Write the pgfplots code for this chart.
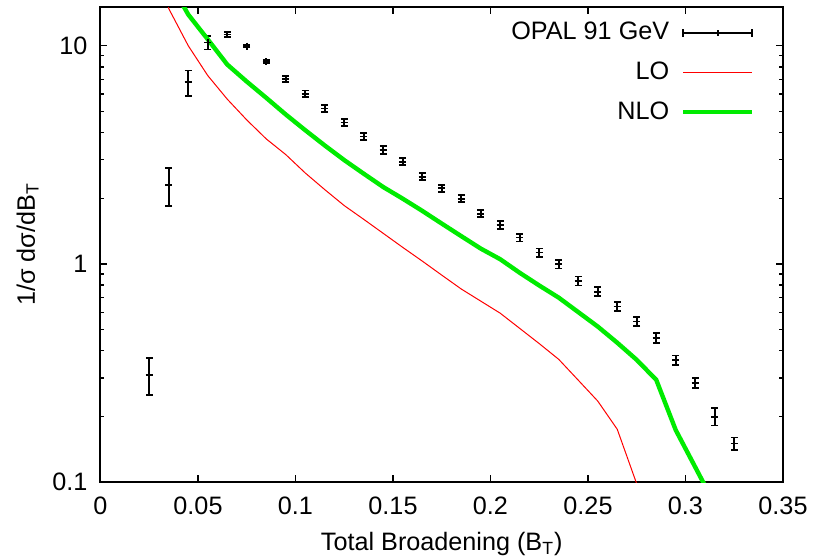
\documentclass[border=0pt]{standalone}
\usepackage{fontspec}
\setmainfont{Liberation Sans}
\usepackage{pgfplots}
\pgfplotsset{compat=1.18}
\definecolor{nlogreen}{RGB}{0,235,0}

\begin{document}
\begin{tikzpicture}[font=\fontsize{12.6}{15}\selectfont]
\begin{axis}[
    scale only axis,
    width=341.25pt, height=237.5pt,
    ymode=log,
    xmin=0, xmax=0.35, ymin=0.1, ymax=15.05,
    xtick={0,0.05,0.1,0.15,0.2,0.25,0.3,0.35},
    xticklabels={0,0.05,0.1,0.15,0.2,0.25,0.3,0.35},
    scaled x ticks=false,
    ytick={0.1,1,10},
    yticklabels={0.1,1,10},
    /pgf/number format/assume math mode=true,
    major tick length=3.5pt, minor tick length=2pt,
    every tick/.style={black, line width=0.7pt},
    axis line style={line width=1pt},
    xticklabel style={yshift=-4pt},
    yticklabel style={xshift=-3pt},
    xlabel style={yshift=-2pt},
    xlabel={Total Broadening (B\textsubscript{T})},
    ylabel={1/σ dσ/dB\textsubscript{T}},
    legend plot pos=right,
    legend cell align=right,
    legend style={draw=none, fill=none, at={(1,1)}, anchor=north east,
      xshift=-11pt, yshift=-3.5pt, row sep=5.5pt, column sep=4pt,
      font=\fontsize{12.6}{15}\selectfont},
  ]
  % OPAL data, errors
  \addplot[black, line width=0.9pt, mark=+, mark size=1.75pt, only marks,
    legend image code/.code={
      \draw[black, line width=0.9pt] (0pt,0pt) -- (34.5pt,0pt);
      \draw[black, line width=0.9pt] (0pt,-2pt) -- (0pt,2pt);
      \draw[black, line width=0.9pt] (34.5pt,-2pt) -- (34.5pt,2pt);
      \draw[black, line width=0.9pt] (17.25pt,-1.5pt) -- (17.25pt,1.5pt);
    },
    error bars/.cd, y dir=both, y explicit,
    error mark=-,
    error mark options={black, line width=0.9pt, mark size=1.65pt, rotate=90},
    error bar style={line width=0.9pt}]
    coordinates {
    (0.025,0.31)  +- (0,0.06)
    (0.035,2.29)  +- (0,0.45)
    (0.045,6.8)   +- (0,0.9)
    (0.055,10.35) +- (0,0.75)
    (0.065,11.27) +- (0,0.3)
    (0.075,9.97)  +- (0,0.12)
    (0.085,8.45)  +- (0,0.15)
    (0.095,7.06)  +- (0,0.22)
    (0.105,6.02)  +- (0,0.22)
    (0.115,5.15)  +- (0,0.2)
    (0.125,4.45)  +- (0,0.17)
    (0.135,3.84)  +- (0,0.15)
    (0.145,3.33)  +- (0,0.13)
    (0.155,2.94)  +- (0,0.11)
    (0.165,2.51)  +- (0,0.095)
    (0.175,2.22)  +- (0,0.085)
    (0.185,1.99)  +- (0,0.075)
    (0.195,1.70)  +- (0,0.065)
    (0.205,1.51)  +- (0,0.06)
    (0.215,1.32)  +- (0,0.055)
    (0.225,1.127) +- (0,0.05)
    (0.235,0.997) +- (0,0.045)
    (0.245,0.836) +- (0,0.04)
    (0.255,0.746) +- (0,0.035)
    (0.265,0.637) +- (0,0.03)
    (0.275,0.544) +- (0,0.027)
    (0.285,0.459) +- (0,0.024)
    (0.295,0.362) +- (0,0.018)
    (0.305,0.284) +- (0,0.015)
    (0.315,0.1995) +- (0,0.018)
    (0.325,0.150) +- (0,0.01)
  };
  \addlegendentry{OPAL 91 GeV}

  \addplot[red, line width=0.5pt, no marks,
    legend image code/.code={\draw[red, line width=0.5pt] (0pt,0pt) -- (34.5pt,0pt);}]
    coordinates {
    (0.025,35) (0.035,14.8) (0.045,10.0) (0.055,7.3) (0.065,5.69)
    (0.075,4.57) (0.085,3.74) (0.095,3.17) (0.105,2.61) (0.115,2.19)
    (0.125,1.85) (0.135,1.60) (0.145,1.38) (0.155,1.19) (0.165,1.03)
    (0.175,0.888) (0.185,0.767) (0.195,0.675) (0.205,0.594) (0.215,0.506)
    (0.225,0.431) (0.235,0.365) (0.245,0.293) (0.255,0.235) (0.265,0.1745)
    (0.275,0.098) (0.285,0.05)
  };
  \addlegendentry{LO}

  \addplot[nlogreen, line width=2.2pt, no marks,
    legend image code/.code={\draw[nlogreen, line width=2.2pt] (0pt,0pt) -- (34.5pt,0pt);}]
    coordinates {
    (0.035,20) (0.045,13.9) (0.055,10.7) (0.065,8.2) (0.075,6.85)
    (0.085,5.77) (0.095,4.84) (0.105,4.10) (0.115,3.49) (0.125,2.99)
    (0.135,2.59) (0.145,2.25) (0.155,1.99) (0.165,1.75) (0.175,1.53)
    (0.185,1.34) (0.195,1.175) (0.205,1.05) (0.215,0.91) (0.225,0.796)
    (0.235,0.70) (0.245,0.601) (0.255,0.516) (0.265,0.435) (0.275,0.363)
    (0.285,0.294) (0.295,0.173) (0.305,0.117) (0.315,0.079)
  };
  \addlegendentry{NLO}
\end{axis}
\pgfresetboundingbox
\path ([xshift=-50.25pt,yshift=-38pt]current axis.south west)
  rectangle ([xshift=15.5pt,yshift=3.5pt]current axis.north east);
\end{tikzpicture}
\end{document}
